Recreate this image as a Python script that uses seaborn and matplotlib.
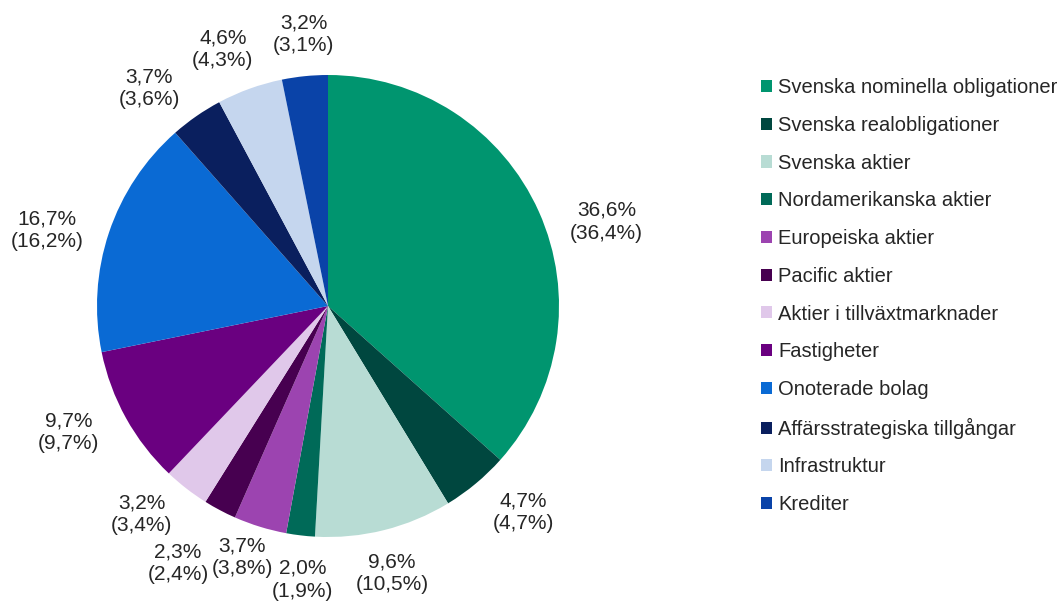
import matplotlib
matplotlib.use("Agg")
import numpy as np
import matplotlib.pyplot as plt
import seaborn as sns
from matplotlib.patches import Patch

categories = [
    "Svenska nominella obligationer",
    "Svenska realobligationer",
    "Svenska aktier",
    "Nordamerikanska aktier",
    "Europeiska aktier",
    "Pacific aktier",
    "Aktier i tillväxtmarknader",
    "Fastigheter",
    "Onoterade bolag",
    "Affärsstrategiska tillgångar",
    "Infrastruktur",
    "Krediter",
]
values = [36.6, 4.7, 9.6, 2.0, 3.7, 2.3, 3.2, 9.7, 16.7, 3.7, 4.6, 3.2]
prev_values = [36.4, 4.7, 10.5, 1.9, 3.8, 2.4, 3.4, 9.7, 16.2, 3.6, 4.3, 3.1]
colors = [
    "#00956F", "#00473F", "#B8DCD4", "#006A58", "#9C44B0", "#470050",
    "#E0C8EA", "#6A0080", "#0A6AD4", "#0A1F5E", "#C5D6EE", "#0A43A8",
]

# label layout (radial distance in radii, angular shift in degrees)
label_radius = [1.26, 1.23, 1.19, 1.19, 1.15, 1.29, 1.21, 1.25, 1.26, 1.22, 1.20, 1.18]
label_shift = [-7.3, 3.6, -0.6, 1.6, -1.8, -2.3, -4.0, -3.0, 3.4, 4.7, 2.5, -0.6]

sns.set_style("white")
plt.rcParams["font.family"] = ["Liberation Sans", "DejaVu Sans"]

W, H = 1063, 605
fig = plt.figure(figsize=(W / 100, H / 100), dpi=100)
cx, cy, r = 328, 306, 231
ax = fig.add_axes([(cx - r) / W, (H - cy - r) / H, 2 * r / W, 2 * r / H])


def fmt(v):
    return f"{v:.1f}".replace(".", ",") + "%"


labels = [f"{fmt(v)}\n({fmt(p)})" for v, p in zip(values, prev_values)]

wedges, _ = ax.pie(
    values,
    colors=colors,
    startangle=90,
    counterclock=False,
    wedgeprops=dict(linewidth=0),
)
for w, lab, rad, sh in zip(wedges, labels, label_radius, label_shift):
    ang = np.deg2rad((w.theta1 + w.theta2) / 2 + sh)
    ax.text(rad * np.cos(ang), rad * np.sin(ang), lab, ha="center", va="center",
            fontsize=15, color="#262626", linespacing=1.25, multialignment="center")
ax.set_xlim(-1, 1)
ax.set_ylim(-1, 1)
ax.set_aspect("equal")
ax.axis("off")

handles = [Patch(facecolor=c, edgecolor="none") for c in colors]
fig.legend(
    handles,
    categories,
    loc="upper left",
    bbox_to_anchor=(743 / W, 1 - 60 / H),
    frameon=False,
    fontsize=14.5,
    handlelength=0.55,
    handleheight=0.55,
    handletextpad=0.3,
    labelspacing=0.93,
    labelcolor="#262626",
)

fig.savefig("out.png", dpi=100, facecolor="white")
